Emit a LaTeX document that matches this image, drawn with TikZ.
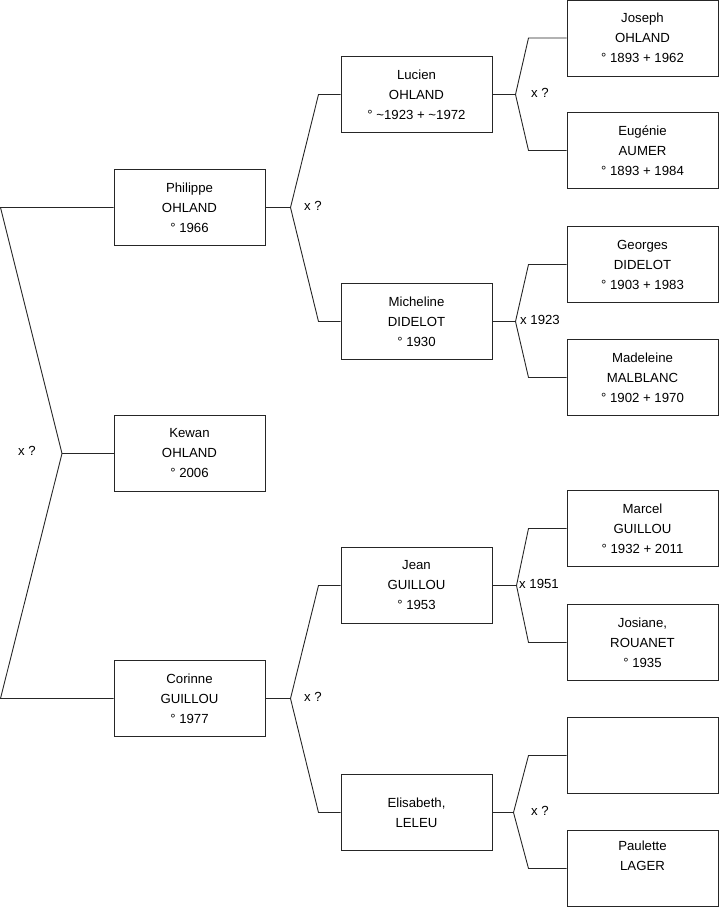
\documentclass[tikz,border=0pt]{standalone}
\usepackage{fontspec}
\setmainfont{Liberation Sans}
\tikzset{
  personne/.style={draw=black!85, line width=1pt, minimum width=151pt, minimum height=76pt,
    inner sep=0pt, align=center, font=\fontsize{13.2}{20}\selectfont},
  lien/.style={draw=black!85, line width=0.9pt},
  mariage/.style={anchor=west, inner sep=0pt, font=\fontsize{13.2}{15}\selectfont},
}
\begin{document}
\begin{tikzpicture}[x=1pt, y=-1pt]
  \useasboundingbox (0,0) rectangle (719,908);

  % generation 1
  \node[personne] (philippe) at (189.5,207.5) {Philippe\\OHLAND\\° 1966};
  \node[personne] (kewan) at (189.5,453.5) {Kewan\\OHLAND\\° 2006};
  \node[personne] (corinne) at (189.5,698.5) {Corinne\\GUILLOU\\° 1977};

  % generation 2
  \node[personne] (lucien) at (416.5,94.5) {Lucien\\OHLAND\\° \textasciitilde1923 + \textasciitilde1972};
  \node[personne] (micheline) at (416.5,321.5) {Micheline\\DIDELOT\\° 1930};
  \node[personne] (jean) at (416.5,585.5) {Jean\\GUILLOU\\° 1953};
  \node[personne] (elisabeth) at (416.5,812.5) {Elisabeth,\\LELEU};

  % generation 3
  \node[personne] (joseph) at (642.5,38) {Joseph\\OHLAND\\° 1893 + 1962};
  \node[personne] (eugenie) at (642.5,150.5) {Eugénie\\AUMER\\° 1893 + 1984};
  \node[personne] (georges) at (642.5,264.5) {Georges\\DIDELOT\\° 1903 + 1983};
  \node[personne] (madeleine) at (642.5,377.5) {Madeleine\\MALBLANC\\° 1902 + 1970};
  \node[personne] (marcel) at (642.5,528.5) {Marcel\\GUILLOU\\° 1932 + 2011};
  \node[personne] (josiane) at (642.5,642.5) {Josiane,\\ROUANET\\° 1935};
  \node[personne] (inconnu) at (642.5,755.5) {};
  \node[personne] (paulette) at (642.5,868.5) {Paulette\\LAGER\\\strut};

  % parents de Kewan
  \coordinate (r1) at (0.5,0 |- philippe.west);
  \coordinate (r2) at (0.5,0 |- corinne.west);
  \coordinate (u0) at (62,0 |- kewan.west);
  \draw[lien] (philippe.west) -- (r1) -- (u0) -- (r2) -- (corinne.west);
  \draw[lien] (u0) -- (kewan.west);
  \node[mariage] (m0) at (18,451) {x ?};

  % les autres unions
  \foreach \enfant/\pere/\mere/\dx/\bx/\txt/\lx/\nom in {
      philippe/lucien/micheline/25/22/x ?/304/m1,
      corinne/jean/elisabeth/25/22/x ?/304/m2,
      lucien/joseph/eugenie/23/38/x ?/531/m3,
      micheline/georges/madeleine/23/38/x 1923/520/m4,
      jean/marcel/josiane/24/38/x 1951/519/m5,
      elisabeth/inconnu/paulette/21/38/x ?/531/m6} {
    \coordinate (v) at ([xshift=\dx pt]\enfant.east);
    \draw[lien] (\enfant.east) -- (v);
    \draw[lien] (v) -- ([xshift=-\bx pt]\pere.west) -- (\pere.west);
    \draw[lien] (v) -- ([xshift=-\bx pt]\mere.west) -- (\mere.west);
    \node[mariage] (\nom) at (\lx,0 |- \enfant.east) [yshift=1.5pt] {\txt};
  }
\end{tikzpicture}
\end{document}
